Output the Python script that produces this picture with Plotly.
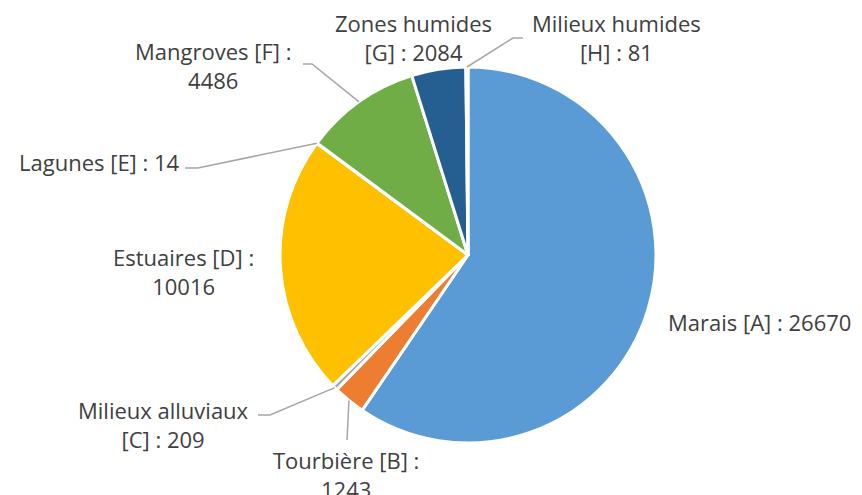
import math
import plotly.graph_objects as go

# ---- data ----
categories = ["Marais [A]", "Tourbière [B]", "Milieux alluviaux [C]", "Estuaires [D]",
              "Lagunes [E]", "Mangroves [F]", "Zones humides [G]", "Milieux humides [H]"]
values = [26670, 1243, 209, 10016, 14, 4486, 2084, 81]
label_texts = ["Marais [A] : 26670", "Tourbière [B] :<br>1243", "Milieux alluviaux<br>[C] : 209",
               "Estuaires [D] :<br>10016", "Lagunes [E] : 14", "Mangroves [F] :<br>4486",
               "Zones humides<br>[G] : 2084", "Milieux humides<br>[H] : 81"]

# ---- style / layout ----
colors = ["#5B9BD5", "#ED7D31", "#A5A5A5", "#FFC000", "#4472C4", "#70AD47", "#255E91", "#9E480E"]
W, H = 862, 495
OFF = 8  # page body margin offsets the figure in the browser window
CX, CY, R = 468, 255, 188
FONT = dict(family="Open Sans", size=22, color="#404040")
LINE_COLOR = "#A6A6A6"

# label placement (screen pixels): x, y, xanchor, elbow points for leader (None = no leader)
label_layout = [
    dict(x=666, y=322, xanchor="left", elbow=None),
    dict(x=346, y=474, xanchor="center", elbow=[(347, 440)]),
    dict(x=163, y=424, xanchor="center", elbow=[(270, 415), (258, 415)]),
    dict(x=183, y=271, xanchor="center", elbow=None),
    dict(x=182, y=162, xanchor="right", elbow=[(198, 168), (185, 168)]),
    dict(x=213, y=66, xanchor="center", elbow=[(312, 64), (303, 64)]),
    dict(x=413, y=37, xanchor="center", elbow=None),
    dict(x=616, y=37, xanchor="center", elbow=[(513, 38), (523, 38)]),
]

def px(x):
    return (x - OFF) / W

def py(y):
    return 1 - (y - OFF) / H

fig = go.Figure(go.Pie(
    labels=categories, values=values, sort=False, direction="clockwise", rotation=0,
    marker=dict(colors=colors, line=dict(color="white", width=3)),
    textinfo="none", hoverinfo="label+value",
    domain=dict(x=[px(CX - R), px(CX + R)], y=[py(CY + R), py(CY - R)]),
    showlegend=False,
))

total = sum(values)
cum = 0
shapes, annotations = [], []
for v, txt, lay in zip(values, label_texts, label_layout):
    mid = (cum + v / 2) / total
    cum += v
    th = 2 * math.pi * mid
    ex, ey = CX + R * math.sin(th), CY - R * math.cos(th)
    if lay["elbow"]:
        pts = [(ex, ey)] + lay["elbow"]
        path = "M " + " L ".join(f"{px(a)},{py(b)}" for a, b in pts)
        shapes.append(dict(type="path", path=path, xref="paper", yref="paper",
                           line=dict(color=LINE_COLOR, width=1.5)))
    annotations.append(dict(x=px(lay["x"]), y=py(lay["y"]), xref="paper", yref="paper",
                            text=txt, showarrow=False, xanchor=lay["xanchor"], yanchor="middle",
                            align="center", font=FONT))

fig.update_layout(width=W, height=H, margin=dict(l=0, r=0, t=0, b=0),
                  paper_bgcolor="white", plot_bgcolor="white",
                  shapes=shapes, annotations=annotations)
fig.write_html("out.html")
